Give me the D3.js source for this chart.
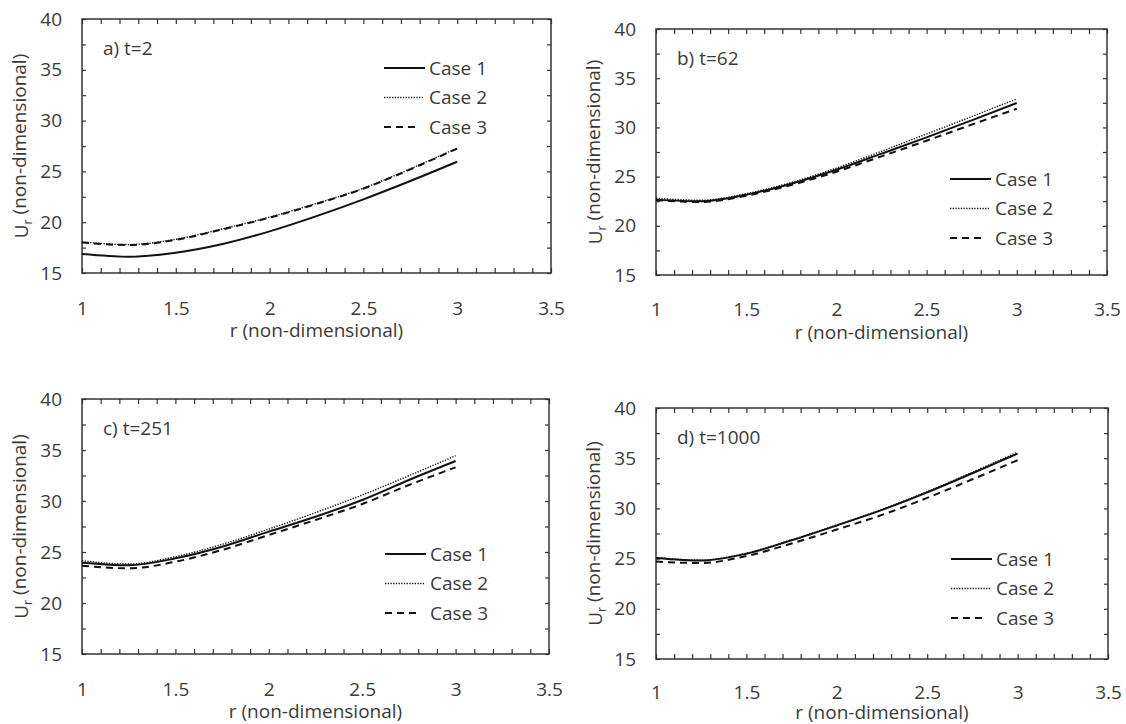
<!DOCTYPE html>
<html>
<head>
<meta charset="utf-8">
<script src="https://cdn.jsdelivr.net/npm/d3@7"></script>
<style>
  html, body { margin: 0; padding: 0; background: #fff; }
  svg { display: block; }
  text { font-family: "Open Sans", "Liberation Sans", sans-serif; fill: #3a3a3a; }
</style>
</head>
<body>
<svg id="chart" width="1126" height="724"></svg>
<script>
// ---------------- data ----------------
const rValues = [1, 1.25, 1.5, 1.75, 2, 2.25, 2.5, 2.75, 3];

const seriesNames = ["Case 1", "Case 2", "Case 3"];
const panelLabels = ["a) t=2", "b) t=62", "c) t=251", "d) t=1000"];

const a_case1 = [16.86, 16.6, 17.0, 17.85, 19.1, 20.6, 22.25, 24.05, 25.95];
const a_case2 = [18.05, 17.8, 18.32, 19.35, 20.5, 21.85, 23.35, 25.25, 27.3];
const a_case3 = [18.0, 17.75, 18.27, 19.3, 20.45, 21.8, 23.3, 25.2, 27.25];

const b_case1 = [22.66, 22.49, 23.16, 24.28, 25.7, 27.33, 28.99, 30.72, 32.48];
const b_case2 = [22.8, 22.6, 23.27, 24.4, 25.87, 27.57, 29.33, 31.1, 32.9];
const b_case3 = [22.6, 22.42, 23.06, 24.15, 25.5, 27.06, 28.65, 30.28, 31.9];

const c_case1 = [23.95, 23.7, 24.38, 25.52, 27.0, 28.46, 30.1, 32.06, 33.92];
const c_case2 = [24.15, 23.82, 24.54, 25.75, 27.25, 28.86, 30.59, 32.48, 34.44];
const c_case3 = [23.66, 23.4, 24.05, 25.2, 26.67, 28.14, 29.7, 31.57, 33.3];

const d_case1 = [25.06, 24.8, 25.49, 26.82, 28.3, 29.85, 31.6, 33.5, 35.45];
const d_case2 = [25.1, 24.85, 25.54, 26.87, 28.35, 29.9, 31.67, 33.6, 35.6];
const d_case3 = [24.7, 24.56, 25.26, 26.5, 27.9, 29.35, 31.05, 32.9, 34.8];

const xTickLabels = [1, 1.5, 2, 2.5, 3, 3.5];
const yTickLabels = [15, 20, 25, 30, 35, 40];

const panelSeries = [
  [a_case1, a_case2, a_case3],
  [b_case1, b_case2, b_case3],
  [c_case1, c_case2, c_case3],
  [d_case1, d_case2, d_case3]
];

// ---------------- layout ----------------
const panelBoxes = [
  { left: 82,  top: 19,  right: 551,  bottom: 273, legendTop: 49,  legendX: 384, tickPad: 29, titleOff: 58 },
  { left: 656, top: 29,  right: 1107, bottom: 275, legendTop: 150, legendX: 950, tickPad: 28, titleOff: 58 },
  { left: 82,  top: 399, right: 549,  bottom: 654, legendTop: 155, legendX: 385, tickPad: 29, titleOff: 58 },
  { left: 656, top: 408, right: 1108, bottom: 659, legendTop: 151, legendX: 951, tickPad: 27, titleOff: 54 }
];

const styles = [
  { width: 2.0, dash: null },
  { width: 1.4, dash: "1.3,1.4" },
  { width: 2.0, dash: "7,5" }
];

const FONT = 19;
const svg = d3.select("#chart");
const frameColor = "#333";

panelBoxes.forEach((box, pi) => {
  const w = box.right - box.left, h = box.bottom - box.top;
  const g = svg.append("g").attr("transform", `translate(${box.left},${box.top})`);

  const x = d3.scaleLinear().domain([1, 3.5]).range([0, w]);
  const y = d3.scaleLinear().domain([15, 40]).range([h, 0]);

  const xMinor = d3.range(10, 36).map(v => v / 10);
  const yMinor = d3.range(15, 40.01, 2.5);

  const bottom = g.append("g").attr("transform", `translate(0,${h})`)
    .call(d3.axisBottom(x).tickValues(xMinor).tickSize(-5).tickFormat(""));
  const top = g.append("g")
    .call(d3.axisTop(x).tickValues(xMinor).tickSize(-5).tickFormat(""));
  const left = g.append("g")
    .call(d3.axisLeft(y).tickValues(yMinor).tickSize(-4).tickFormat(""));
  const right = g.append("g").attr("transform", `translate(${w},0)`)
    .call(d3.axisRight(y).tickValues(yMinor).tickSize(-4).tickFormat(""));
  [bottom, top, left, right].forEach(a => {
    a.select(".domain").remove();
    a.selectAll(".tick line").attr("stroke", frameColor).attr("stroke-width", 1.2);
  });

  // x labels
  const xl = g.append("g").attr("transform", `translate(0,${h})`)
    .call(d3.axisBottom(x).tickValues(xTickLabels).tickSize(0).tickPadding(box.tickPad).tickFormat(d3.format("")));
  xl.select(".domain").remove();
  xl.selectAll("text").attr("font-size", FONT).attr("font-family", null).attr("fill", "#3a3a3a");

  // y labels
  const yl = g.append("g")
    .call(d3.axisLeft(y).tickValues(yTickLabels).tickSize(0).tickPadding(20).tickFormat(d3.format("")));
  yl.select(".domain").remove();
  yl.selectAll("text").attr("font-size", FONT).attr("font-family", null).attr("fill", "#3a3a3a");

  // frame
  g.append("rect").attr("x", 0).attr("y", 0).attr("width", w).attr("height", h)
    .attr("fill", "none").attr("stroke", frameColor).attr("stroke-width", 1.5);

  // series
  const line = d3.line().x((d, i) => x(rValues[i])).y(d => y(d)).curve(d3.curveMonotoneX);
  panelSeries[pi].forEach((vals, si) => {
    const st = styles[si];
    g.append("path").datum(vals).attr("d", line)
      .attr("fill", "none").attr("stroke", "#111").attr("stroke-width", st.width)
      .attr("stroke-dasharray", st.dash);
  });

  // panel label
  g.append("text").attr("x", 21).attr("y", 29).attr("dy", "0.35em").attr("font-size", FONT).text(panelLabels[pi]);

  // legend
  const lg = g.append("g");
  seriesNames.forEach((name, si) => {
    const st = styles[si];
    const ly = box.legendTop + si * 29.5;
    const lx0 = box.legendX - box.left;
    const lx1 = lx0 + (si === 0 ? 41 : (si === 1 ? 39 : 34));
    lg.append("line").attr("x1", lx0).attr("x2", lx1).attr("y1", ly).attr("y2", ly)
      .attr("stroke", "#111").attr("stroke-width", st.width).attr("stroke-dasharray", st.dash);
    lg.append("text").attr("x", lx0 + 45).attr("y", ly).attr("dy", "0.35em")
      .attr("font-size", FONT).text(name);
  });

  // x title
  g.append("text").attr("x", w / 2).attr("y", h + box.titleOff).attr("dy", "0.32em")
    .attr("text-anchor", "middle").attr("font-size", FONT).text("r (non-dimensional)");

  // y title
  const yt = g.append("text").attr("transform", `translate(-54,${h / 2}) rotate(-90)`)
    .attr("text-anchor", "middle").attr("font-size", FONT);
  yt.append("tspan").text("U");
  yt.append("tspan").attr("font-size", FONT * 0.65).attr("dy", "0.35em").text("r");
  yt.append("tspan").attr("dy", "-0.35em").text(" (non-dimensional)");
});
</script>
</body>
</html>
